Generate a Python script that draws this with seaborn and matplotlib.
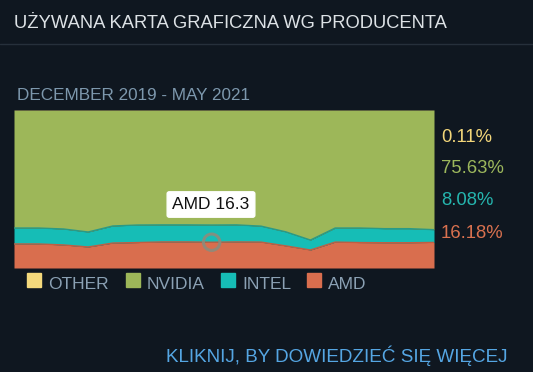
import matplotlib
matplotlib.use("Agg")
import matplotlib.pyplot as plt
import seaborn as sns
import numpy as np
import pandas as pd

months = ["2019-12", "2020-01", "2020-02", "2020-03", "2020-04", "2020-05",
          "2020-06", "2020-07", "2020-08", "2020-09", "2020-10", "2020-11",
          "2020-12", "2021-01", "2021-02", "2021-03", "2021-04", "2021-05"]
amd = [15.2, 15.2, 14.6, 13.3, 15.8, 16.1, 16.5, 16.5, 16.3, 16.5, 16.4, 14.0,
       11.4, 16.4, 16.1, 16.0, 16.0, 16.18]
intel = [10.1, 10.1, 10.1, 9.5, 10.8, 11.1, 10.8, 10.8, 10.9, 10.8, 10.1, 8.9,
         6.3, 8.9, 9.2, 8.9, 8.9, 8.08]
other = [0.15, 0.15, 0.15, 0.15, 0.15, 0.15, 0.15, 0.15, 0.15, 0.15, 0.15, 0.15,
         0.15, 0.12, 0.12, 0.12, 0.12, 0.11]
nvidia = [round(100 - a - i - o, 2) for a, i, o in zip(amd, intel, other)]
nvidia[-1] = 75.63

series = ["OTHER", "NVIDIA", "INTEL", "AMD"]
colors = {"OTHER": "#f4d97c", "NVIDIA": "#9db759", "INTEL": "#16bdb6", "AMD": "#d96e4e"}
edge = {"NVIDIA": "#5d8a3a", "INTEL": "#2a9a86", "AMD": "#c05e42"}
last_labels = ["0.11%", "75.63%", "8.08%", "16.18%"]
label_colors = ["#f2d67a", "#9cb75c", "#25b5ae", "#d9714f"]
tooltip_series, tooltip_idx, tooltip_val = "AMD", 8, 16.3

BG = "#0f1720"
W, H = 533, 372
sns.set_style("dark")
plt.rcParams["font.family"] = ["Liberation Sans", "DejaVu Sans"]

fig = plt.figure(figsize=(W / 100, H / 100), dpi=100, facecolor=BG)
fx = lambda x: x / W
fy = lambda y: 1 - y / H

ax = fig.add_axes([fx(14), fy(268), (434 - 14) / W, (268 - 110) / H])
ax.set_facecolor(BG)

x = np.arange(len(months))
df = pd.DataFrame({"idx": x, "AMD": amd, "INTEL": intel, "NVIDIA": nvidia, "OTHER": other})
ax.stackplot(x, df["AMD"], df["INTEL"], df["NVIDIA"], df["OTHER"],
             colors=[colors["AMD"], colors["INTEL"], colors["NVIDIA"], colors["OTHER"]],
             linewidth=0)
cum = pd.DataFrame({"idx": x, "AMD": df["AMD"], "INTEL": df["AMD"] + df["INTEL"]})
sns.lineplot(data=cum, x="idx", y="AMD", ax=ax, color=edge["AMD"], linewidth=1.0)
sns.lineplot(data=cum, x="idx", y="INTEL", ax=ax, color=edge["INTEL"], linewidth=1.0)

ax.set_xlim(0, len(months) - 1)
ax.set_ylim(0, 100)
ax.set_xticks([])
ax.set_yticks([])
ax.set_xlabel("")
ax.set_ylabel("")
for s in ax.spines.values():
    s.set_visible(False)

# tooltip marker
sns.scatterplot(x=[tooltip_idx], y=[tooltip_val], ax=ax, s=140, facecolor="none",
                edgecolor="#8c8c7c", linewidth=2.2, alpha=0.9, zorder=5)
fig.text(fx(211), fy(209), f"{tooltip_series} {tooltip_val}", color="#111111",
         fontsize=12.5, ha="center", va="baseline",
         bbox=dict(boxstyle="round,pad=0.3,rounding_size=0.12", facecolor="white",
                   edgecolor="white"))

# title and separator
fig.text(fx(14), fy(28), "UŻYWANA KARTA GRAFICZNA WG PRODUCENTA", color="#dde2e6",
         fontsize=13.2, ha="left", va="baseline")
fig.add_artist(plt.Line2D([0, 1], [fy(44), fy(44)], color="#26303b", linewidth=1,
                          transform=fig.transFigure))
fig.text(fx(17), fy(100), "DECEMBER 2019 - MAY 2021", color="#7d98ad",
         fontsize=12.3, ha="left", va="baseline")

# right labels
for lbl, c, yb in zip(last_labels, label_colors, [141.5, 173, 205, 237.5]):
    fig.text(fx(441), fy(yb), lbl, color=c, fontsize=13.3, ha="left", va="baseline")

# legend
leg_sq = [27, 126, 221, 307]
for name, xs in zip(series, leg_sq):
    fig.add_artist(plt.Rectangle((fx(xs), fy(287)), 14 / W, 14 / H,
                                 transform=fig.transFigure, color=colors[name]))
    fig.text(fx(xs + 21), fy(289), name, color="#8ba1b4", fontsize=12.5,
             ha="left", va="baseline")

fig.text(fx(507), fy(362), "KLIKNIJ, BY DOWIEDZIEĆ SIĘ WIĘCEJ", color="#55a6e3",
         fontsize=13.6, ha="right", va="baseline")

fig.savefig("out.png", dpi=100, facecolor=BG)
